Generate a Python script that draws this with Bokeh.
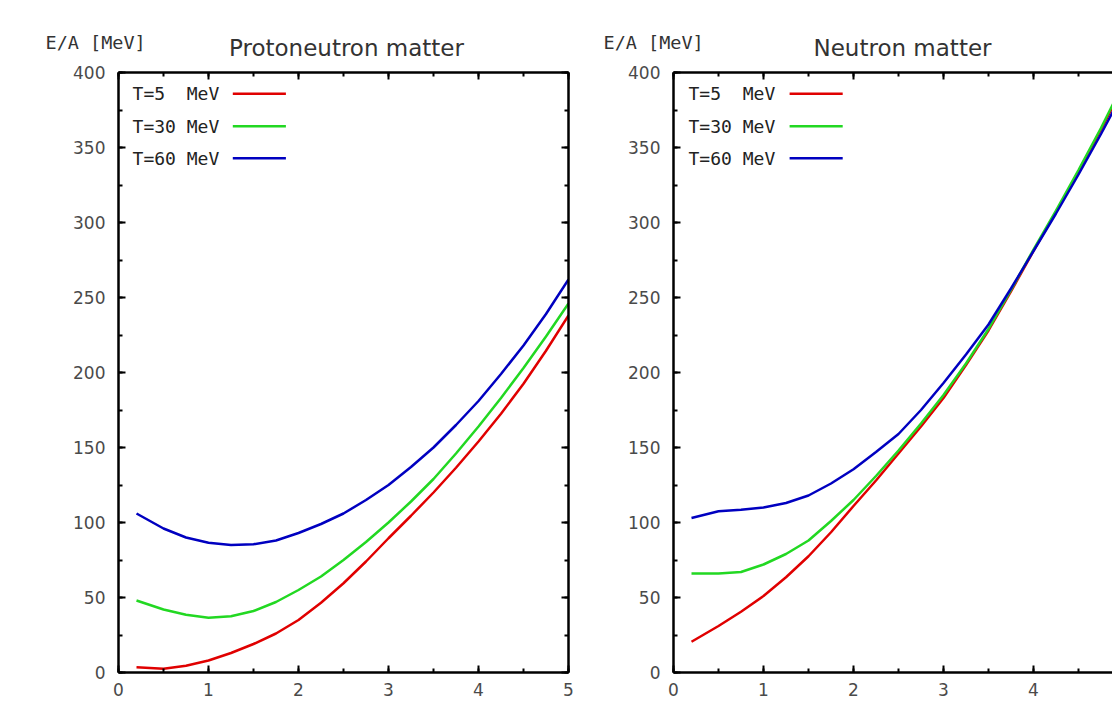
from bokeh.plotting import figure
from bokeh.layouts import row, column
from bokeh.models import LinearAxis, Range1d, SingleIntervalTicker, CustomJSTickFormatter
from bokeh.core.properties import value
from bokeh.embed import file_html
from bokeh.resources import INLINE

# ---------------- data ----------------
density = [0.2, 0.5, 0.75, 1.0, 1.25, 1.5, 1.75, 2.0, 2.25, 2.5, 2.75,
           3.0, 3.25, 3.5, 3.75, 4.0, 4.25, 4.5, 4.75, 5.0]

pnm_T5 = [3.5, 2.5, 4.5, 8.0, 13.0, 19.0, 26.0, 35.0, 46.5, 59.5, 74.0,
          89.5, 104.5, 120.0, 136.5, 154.0, 172.5, 192.5, 214.5, 238.0]
pnm_T30 = [48.0, 42.0, 38.5, 36.5, 37.5, 41.0, 47.0, 55.0, 64.0, 75.0, 87.0,
           100.0, 114.0, 129.0, 146.0, 164.0, 183.0, 203.0, 224.0, 246.0]
pnm_T60 = [106.0, 96.0, 90.0, 86.5, 85.0, 85.5, 88.0, 93.0, 99.0, 106.0, 115.0,
           125.0, 137.0, 150.0, 165.0, 181.0, 199.0, 218.0, 239.0, 262.0]

nm_T5 = [20.5, 31.0, 40.5, 51.0, 63.5, 77.5, 93.5, 111.0, 128.0, 146.0, 164.0,
         183.0, 205.0, 228.0, 254.0, 281.0, 307.0, 334.0, 362.0, 391.0]
nm_T30 = [66.0, 66.0, 67.0, 72.0, 79.0, 88.0, 101.0, 115.0, 131.0, 148.0, 166.0,
          185.0, 206.0, 229.0, 255.0, 282.0, 308.0, 335.0, 363.0, 393.0]
nm_T60 = [103.0, 107.5, 108.5, 110.0, 113.0, 118.0, 126.0, 135.5, 147.0, 159.0, 175.0,
          193.0, 212.0, 232.0, 256.0, 281.0, 306.0, 332.0, 359.0, 387.0]

legend_labels = ["T=5\u00a0 MeV", "T=30 MeV", "T=60 MeV"]
line_colors = ["#e00000", "#22d822", "#0000c0"]
titles = ["Protoneutron matter", "Neutron matter"]
y_label = "E/A [MeV]"

# ---------------- layout constants (pixels) ----------------
W, H = 1112, 705
HEADER_H = 62
TOP_B = 10            # frame top at 72
FRAME_H = 600         # frame bottom at 672
BOT_B = H - HEADER_H - TOP_B - FRAME_H
LEFT_W = 600
PX_PER_X = 90.0

TICK_FONT = "DejaVu Sans"
MONO = "DejaVu Sans Mono"
blank = CustomJSTickFormatter(code="return ''")


def style_axis(ax, interval, show_labels, standoff=13, size="17px"):
    ax.ticker = SingleIntervalTicker(interval=interval, num_minor_ticks=2)
    ax.axis_line_color = "black"
    ax.axis_line_width = 2.5
    ax.major_tick_line_color = "black"
    ax.minor_tick_line_color = "black"
    ax.major_tick_line_width = 2
    ax.minor_tick_line_width = 2
    ax.major_tick_in = 7
    ax.major_tick_out = 0
    ax.minor_tick_in = 4
    ax.minor_tick_out = 0
    if show_labels:
        ax.major_label_text_font = TICK_FONT
        ax.major_label_text_font_size = size
        ax.major_label_text_color = "#4a4a4a"
        ax.major_label_standoff = standoff
    else:
        ax.formatter = blank
        ax.major_label_standoff = 0


def make_panel(series, width, min_left, min_right, mirror_right, legend_x, line_x0, line_x1):
    frame_w = width - min_left - min_right
    p = figure(width=width, height=H - HEADER_H,
               x_range=Range1d(0, frame_w / PX_PER_X), y_range=Range1d(0, 400),
               output_backend="svg", toolbar_location=None,
               min_border_left=min_left, min_border_right=min_right,
               min_border_top=TOP_B, min_border_bottom=BOT_B)
    p.outline_line_color = None
    p.xgrid.visible = False
    p.ygrid.visible = False

    style_axis(p.xaxis[0], 1, True, standoff=10, size="17px")
    style_axis(p.yaxis[0], 50, True, standoff=13)

    top = LinearAxis()
    style_axis(top, 1, False)
    p.add_layout(top, "above")
    if mirror_right:
        right = LinearAxis()
        style_axis(right, 50, False)
        p.add_layout(right, "right")

    for ys, col in zip(series, line_colors):
        p.line(density, ys, line_color=col, line_width=2.5)

    # legend (gnuplot style: text on the left, sample line on the right)
    rows_y = [385.8, 364.2, 342.9]
    p.text(x=[legend_x] * 3, y=rows_y, text=legend_labels,
           text_font=value(MONO), text_font_size="18px", text_color="#222222",
           text_baseline="middle", text_align="left")
    p.segment(x0=[line_x0] * 3, y0=rows_y, x1=[line_x1] * 3, y1=rows_y,
              line_color=line_colors, line_width=2.5)
    return p


# header strip holding the titles and the "E/A [MeV]" labels
header = figure(width=W, height=HEADER_H, x_range=Range1d(0, W), y_range=Range1d(0, HEADER_H),
                output_backend="svg", toolbar_location=None, min_border=0)
header.axis.visible = False
header.grid.visible = False
header.outline_line_color = None
title_x = [346, 902]
header.text(x=title_x, y=[HEADER_H - 47.0] * 2, text=titles,
            text_font=value(TICK_FONT), text_font_size="23px", text_color="#333333",
            text_align="center", text_baseline="middle")
header.text(x=[45, 603], y=[HEADER_H - 42.0] * 2, text=[y_label] * 2,
            text_font=value(MONO), text_font_size="18.5px", text_color="#333333",
            text_align="left", text_baseline="middle")

p1 = make_panel([pnm_T5, pnm_T30, pnm_T60], LEFT_W, 118, 32, True, 0.156, 1.27, 1.86)
p2 = make_panel([nm_T5, nm_T30, nm_T60], W - LEFT_W, 73, 0, False, 0.167, 1.29, 1.88)

layout = column(header, row(p1, p2))
open("out.html", "w").write(file_html(layout, INLINE))
